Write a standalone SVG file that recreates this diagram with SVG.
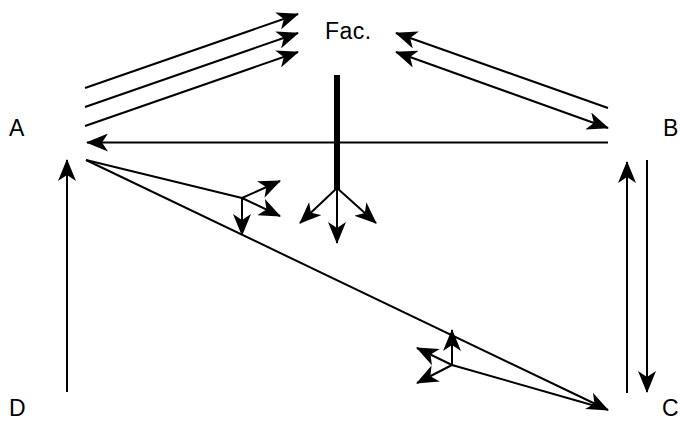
<svg xmlns="http://www.w3.org/2000/svg" width="680" height="423" viewBox="0 0 680 423">
<style>
.ln{stroke:#000;stroke-width:2;fill:none}
.big{marker-end:url(#hb)}
.lbl{font-family:"Liberation Sans",Arial,sans-serif;font-size:23px;fill:#000}
</style>
<defs>
<marker id="hb" viewBox="0 0 22 18" refX="21" refY="9" markerWidth="22" markerHeight="18" markerUnits="userSpaceOnUse" orient="auto-start-reverse">
<path d="M0,0 L22,9 L0,18 L6,9 Z" fill="#000"/>
</marker>
</defs>
<rect width="680" height="423" fill="#fff"/>
<g id="connectors">
<line class="ln big" x1="85" y1="88" x2="298" y2="14"/>
<line class="ln big" x1="85" y1="107" x2="298" y2="33"/>
<line class="ln big" x1="85" y1="126" x2="298" y2="52"/>
<line class="ln big" x1="608" y1="108" x2="396" y2="33"/>
<line class="ln big" x1="396" y1="52" x2="608" y2="128" marker-start="url(#hb)"/>
<line class="ln big" x1="608" y1="142.5" x2="87" y2="142.5"/>
<line class="ln" x1="337" y1="75" x2="337" y2="189" style="stroke-width:6"/>
<line class="ln big" x1="337" y1="188" x2="300" y2="223"/>
<line class="ln big" x1="337" y1="188" x2="337" y2="243"/>
<line class="ln big" x1="337" y1="188" x2="376" y2="223"/>
<line class="ln" x1="86" y1="160" x2="242" y2="198"/>
<line class="ln big" x1="86" y1="160" x2="608" y2="410"/>
<line class="ln big" x1="242" y1="198" x2="242" y2="235"/>
<line class="ln big" x1="242" y1="198" x2="280" y2="181"/>
<line class="ln big" x1="242" y1="198" x2="280" y2="216"/>
<line class="ln" x1="452" y1="365" x2="606" y2="409"/>
<line class="ln big" x1="452" y1="365" x2="452" y2="330"/>
<line class="ln big" x1="452" y1="365" x2="417" y2="348"/>
<line class="ln big" x1="452" y1="365" x2="417" y2="383"/>
<line class="ln big" x1="67" y1="392" x2="67" y2="160"/>
<line class="ln big" x1="627" y1="393" x2="627" y2="162"/>
<line class="ln big" x1="647" y1="160" x2="647" y2="392"/>
</g>
<g id="A"><text class="lbl" x="9" y="136">A</text></g>
<g id="Fac"><text class="lbl" x="325" y="39" letter-spacing="0.5">Fac.</text></g>
<g id="B"><text class="lbl" x="663" y="136">B</text></g>
<g id="D"><text class="lbl" x="9" y="416">D</text></g>
<g id="C"><text class="lbl" x="662" y="416">C</text></g>
</svg>
